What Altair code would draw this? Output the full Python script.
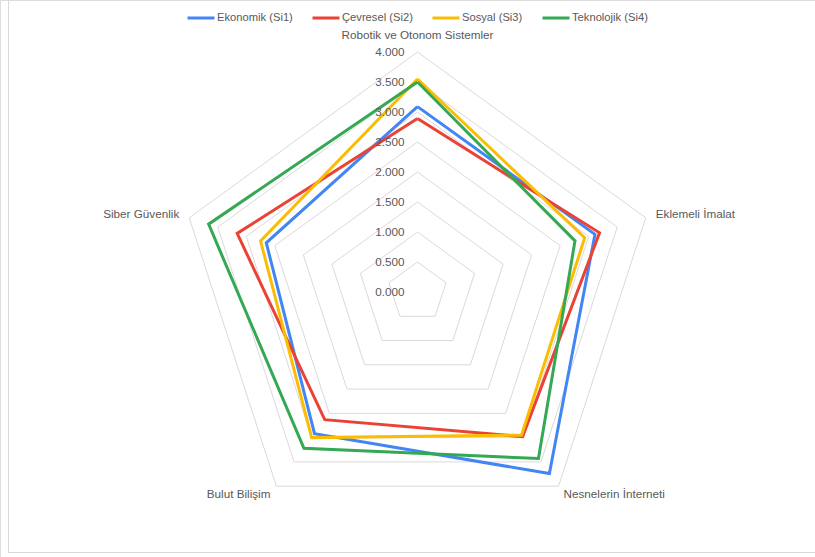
import math
import altair as alt
import pandas as pd

# ---- data ----
categories = ["Robotik ve Otonom Sistemler", "Eklemeli İmalat", "Nesnelerin İnterneti",
              "Bulut Bilişim", "Siber Güvenlik"]
series_names = ["Ekonomik (Si1)", "Çevresel (Si2)", "Sosyal (Si3)", "Teknolojik (Si4)"]
ekonomik = [3.09, 3.11, 3.74, 2.92, 2.65]
cevresel = [2.89, 3.19, 2.98, 2.63, 3.16]
sosyal = [3.55, 2.93, 2.95, 3.00, 2.75]
teknolojik = [3.50, 2.76, 3.43, 3.22, 3.66]
colors = ["#4285F4", "#EA4335", "#FBBC04", "#34A853"]
levels = [0.5, 1.0, 1.5, 2.0, 2.5, 3.0, 3.5, 4.0]
tick_values = [0.0, 0.5, 1.0, 1.5, 2.0, 2.5, 3.0, 3.5, 4.0]

series_values = [ekonomik, cevresel, sosyal, teknolojik]

# ---- tables ----
rows = []
for si, (name, vals) in enumerate(zip(series_names, series_values)):
    for k in range(6):
        i = k % 5
        rows.append({"seri": name, "sidx": si, "kategori": categories[i], "idx": i,
                     "sira": k, "deger": vals[i]})
df = pd.DataFrame(rows)

grid_rows = []
for lv in levels:
    for k in range(6):
        grid_rows.append({"seviye": lv, "idx": k % 5, "sira": k})
gdf = pd.DataFrame(grid_rows)

tdf = pd.DataFrame({"deger": tick_values,
                    "etiket": [f"{v:.3f}" for v in tick_values]})
cdf = pd.DataFrame({"kategori": categories, "idx": list(range(5))})

W, H = 815, 557
CX, CY, PX = 417.5, 292.0, 60.0
FS = 11.7
xs = alt.Scale(domain=[-CX / PX, (W - CX) / PX], nice=False, zero=False)
ys = alt.Scale(domain=[-(H - CY) / PX, CY / PX], nice=False, zero=False)

ang = "2*PI*datum.idx/5"

grid = alt.Chart(gdf).transform_calculate(
    x=f"datum.seviye*sin({ang})", y=f"datum.seviye*cos({ang})"
).mark_line(color="#d9d9d9", strokeWidth=1, strokeJoin="miter").encode(
    x=alt.X("x:Q", scale=xs, axis=None),
    y=alt.Y("y:Q", scale=ys, axis=None),
    detail="seviye:N",
    order="sira:Q",
)

lines = alt.Chart(df).transform_calculate(
    x=f"datum.deger*sin({ang})", y=f"datum.deger*cos({ang})"
).mark_line(strokeWidth=3, strokeJoin="miter").encode(
    x=alt.X("x:Q", scale=xs, axis=None),
    y=alt.Y("y:Q", scale=ys, axis=None),
    color=alt.Color("seri:N", scale=alt.Scale(domain=series_names, range=colors),
                    sort=series_names,
                    legend=alt.Legend(orient="none", direction="horizontal",
                                      legendX=186, legendY=3, title=None,
                                      symbolType="stroke", symbolSize=729,
                                      symbolStrokeWidth=3, labelFontSize=11.2,
                                      labelColor="#595959", labelFont="Liberation Sans",
                                      columnPadding=13, labelOffset=1)),
    detail="seri:N",
    order="sira:Q",
)

ticks = alt.Chart(tdf).mark_text(align="right", baseline="middle", dx=-13,
                                 fontSize=FS, color="#595959",
                                 font="Liberation Sans").encode(
    x=alt.value(CX),
    y=alt.Y("deger:Q", scale=ys, axis=None),
    text="etiket:N",
)

R = 4.0
def cat_layer(idxs, align, dx, dy):
    return alt.Chart(cdf).transform_filter(
        alt.FieldOneOfPredicate(field="idx", oneOf=idxs)
    ).transform_calculate(
        x=f"{R}*sin({ang})", y=f"{R}*cos({ang})"
    ).mark_text(align=align, baseline="middle", dx=dx, dy=dy, fontSize=FS,
                color="#595959", font="Liberation Sans").encode(
        x=alt.X("x:Q", scale=xs, axis=None),
        y=alt.Y("y:Q", scale=ys, axis=None),
        text="kategori:N",
    )

lab_top = cat_layer([0], "center", 0, -17)
lab_right = cat_layer([1], "left", 10, -4)
lab_br = cat_layer([2], "left", 5, 8)
lab_bl = cat_layer([3], "right", -6, 8)
lab_left = cat_layer([4], "right", -10, -4)

border_l = alt.Chart(tdf).mark_rule(color="#d9d9d9", strokeWidth=1).encode(
    x=alt.value(8.5), y=alt.value(0), y2=alt.value(552.5))
border_b = alt.Chart(tdf).mark_rule(color="#d9d9d9", strokeWidth=1).encode(
    x=alt.value(8.5), x2=alt.value(W), y=alt.value(552.5))

chart = alt.layer(
    border_l, border_b, grid, lines, ticks,
    lab_top, lab_right, lab_br, lab_bl, lab_left,
).properties(
    width=W, height=H, autosize=alt.AutoSizeParams(type="none"), padding=0,
).configure_view(stroke=None).configure(background="white")

chart.save("out.html", embed_options={"renderer": "svg", "actions": False})
